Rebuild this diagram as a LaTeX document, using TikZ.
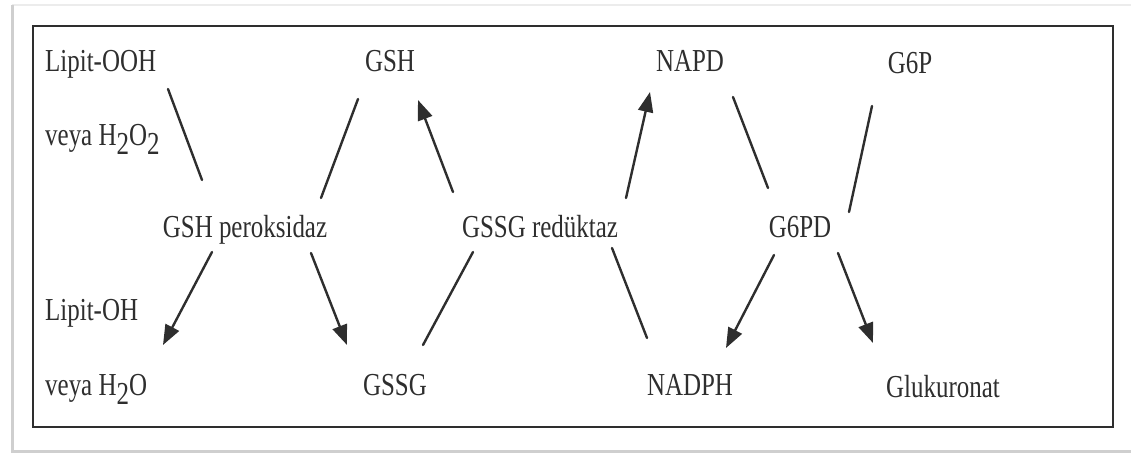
\documentclass[tikz,border=0pt]{standalone}
\usepackage{fontspec}
\setmainfont{Liberation Serif}[FakeStretch=0.78]
\usetikzlibrary{arrows.meta}
\definecolor{ink}{HTML}{2E2E2E}
\definecolor{paleedge}{HTML}{ECECEC}
\definecolor{softedge}{HTML}{CFCFCF}
% lowered full-size subscript digit, as in old typeset formulas
\newcommand{\lowdigit}[1]{\raisebox{-9pt}{#1}}
\begin{document}
\begin{tikzpicture}[x=1pt,y=-1pt,
  lbl/.style={text=ink, inner sep=0pt, font=\fontsize{32}{36}\selectfont},
  link/.style={draw=ink, line width=2.4pt, line cap=round},
  flow/.style={link, -{Triangle[length=20pt,width=15pt]}}]
\useasboundingbox (0,0) rectangle (1131,454);

% outer page edge
\draw[paleedge, line width=2pt] (1131,5) -- (12,5);
\draw[softedge, line width=3pt] (12,5) -- (12,451) -- (1131,451);

% inner frame
\draw[ink, line width=2pt] (33,26) rectangle (1113,427);

% species and enzymes
\node[lbl, anchor=base west] (lipitooh) at (45,72) {Lipit-OOH};
\node[lbl, anchor=base west] (hoo) at (45,146) {veya H\lowdigit{2}O\lowdigit{2}};
\node[lbl, anchor=base] (gsh) at (390,72) {GSH};
\node[lbl, anchor=base] (napd) at (690,72) {NAPD};
\node[lbl, anchor=base] (g6p) at (910,74) {G6P};
\node[lbl, anchor=base] (gpx) at (245,237) {GSH peroksidaz};
\node[lbl, anchor=base] (gr) at (540,237) {GSSG redüktaz};
\node[lbl, anchor=base] (g6pd) at (800,237) {G6PD};
\node[lbl, anchor=base west] (lipitoh) at (45,320) {Lipit-OH};
\node[lbl, anchor=base west] (water) at (45,395) {veya H\lowdigit{2}O};
\node[lbl, anchor=base] (gssg) at (395,395) {GSSG};
\node[lbl, anchor=base] (nadph) at (690,395) {NADPH};
\node[lbl, anchor=base] (gluk) at (943,397) {Glukuronat};

% connector end points
\coordinate (a1) at (168,89);   \coordinate (a2) at (202,180);
\coordinate (b1) at (358,99);   \coordinate (b2) at (321,198);
\coordinate (c1) at (212,252);  \coordinate (c2) at (163,345);
\coordinate (d1) at (311,253);  \coordinate (d2) at (347,345);
\coordinate (e1) at (423,345);  \coordinate (e2) at (473,252);
\coordinate (f1) at (453,192);  \coordinate (f2) at (418,100);
\coordinate (g1) at (626,198);  \coordinate (g2) at (650,92);
\coordinate (h1) at (647,338);  \coordinate (h2) at (612,248);
\coordinate (i1) at (733,97);   \coordinate (i2) at (768,188);
\coordinate (j1) at (872,106);  \coordinate (j2) at (849,212);
\coordinate (k1) at (774,255);  \coordinate (k2) at (726,348);
\coordinate (l1) at (838,253);  \coordinate (l2) at (873,343);

% substrate lines into the enzymes
\draw[link] (a1) -- (a2);
\draw[link] (b1) -- (b2);
\draw[link] (e1) -- (e2);
\draw[link] (h1) -- (h2);
\draw[link] (i1) -- (i2);
\draw[link] (j1) -- (j2);

% product arrows
\draw[flow] (c1) -- (c2);
\draw[flow] (d1) -- (d2);
\draw[flow] (f1) -- (f2);
\draw[flow] (g1) -- (g2);
\draw[flow] (k1) -- (k2);
\draw[flow] (l1) -- (l2);
\end{tikzpicture}
\end{document}
